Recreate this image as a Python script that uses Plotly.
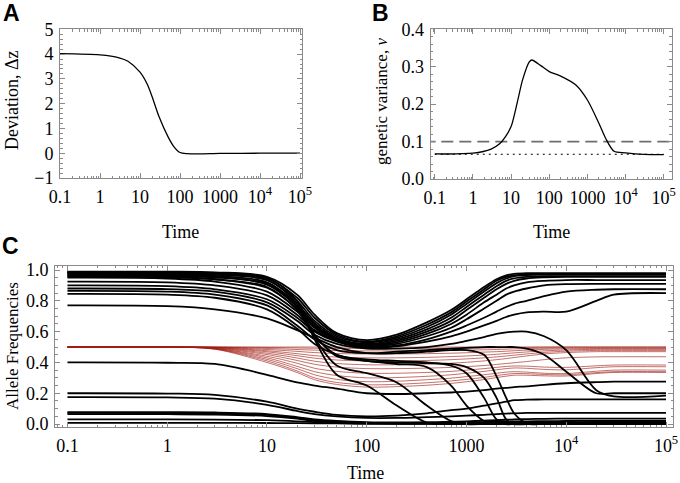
import plotly.graph_objects as go

# ---------------- data ----------------
time_ticks = [0.1, 1, 10, 100, 1000, 1e4, 1e5]
time_tick_text = ["0.1", "1", "10", "100", "1000", "10<sup>4</sup>", "10<sup>5</sup>"]

# Panel A: deviation
time_a = [0.1, 1, 3, 5, 10, 15, 20, 30, 50, 70, 100, 150, 300, 1000, 10000, 100000]
dev_a = [4.02, 3.97, 3.85, 3.71, 3.27, 2.8, 2.29, 1.47, 0.67, 0.27, 0.03, -0.02, -0.03, -0.01, 0.0, 0.0]

# Panel B: genetic variance
time_b = [0.1, 1, 3, 5, 7, 10, 15, 20, 30, 35, 60, 100, 200, 500, 1000, 2000, 3000, 5000, 10000, 30000, 100000]
var_b = [0.067, 0.069, 0.08, 0.094, 0.112, 0.14, 0.211, 0.265, 0.313, 0.318, 0.303, 0.287, 0.275, 0.251, 0.211, 0.149, 0.109, 0.074, 0.07, 0.066, 0.065]
var_dashed = 0.1
var_dotted = 0.066

# Panel C: allele frequencies
time_c = [0.1, 1, 3, 10, 20, 30, 50, 100, 200, 400, 700, 1000, 1500, 2000, 2500, 3000, 4000, 6000, 10000, 20000, 30000, 100000]

u1 = [0.99, 0.99, 0.985, 0.955, 0.84, 0.71, 0.59, 0.545, 0.58, 0.66, 0.74, 0.81, 0.89, 0.94, 0.965, 0.975, 0.98, 0.98, 0.98, 0.98, 0.98, 0.98]
u2 = [0.985, 0.984, 0.978, 0.945, 0.82, 0.69, 0.58, 0.535, 0.57, 0.645, 0.725, 0.795, 0.875, 0.93, 0.955, 0.965, 0.972, 0.975, 0.975, 0.975, 0.975, 0.975]
u3 = [0.98, 0.978, 0.97, 0.935, 0.80, 0.67, 0.57, 0.53, 0.56, 0.63, 0.71, 0.78, 0.86, 0.915, 0.945, 0.96, 0.967, 0.97, 0.97, 0.97, 0.97, 0.97]
u4 = [0.975, 0.972, 0.962, 0.92, 0.78, 0.655, 0.56, 0.52, 0.55, 0.615, 0.69, 0.76, 0.84, 0.895, 0.93, 0.945, 0.955, 0.96, 0.96, 0.96, 0.96, 0.96]
u5 = [0.97, 0.967, 0.955, 0.905, 0.765, 0.645, 0.555, 0.515, 0.54, 0.60, 0.67, 0.74, 0.82, 0.875, 0.91, 0.93, 0.945, 0.952, 0.955, 0.955, 0.955, 0.955]
u6 = [0.96, 0.956, 0.94, 0.885, 0.75, 0.635, 0.55, 0.51, 0.53, 0.585, 0.65, 0.71, 0.79, 0.84, 0.88, 0.90, 0.92, 0.93, 0.935, 0.935, 0.935, 0.935]
u7 = [0.95, 0.945, 0.925, 0.86, 0.73, 0.625, 0.545, 0.505, 0.52, 0.57, 0.625, 0.68, 0.75, 0.80, 0.84, 0.86, 0.88, 0.90, 0.908, 0.91, 0.91, 0.91]
u8 = [0.925, 0.92, 0.90, 0.835, 0.71, 0.61, 0.54, 0.50, 0.51, 0.55, 0.60, 0.64, 0.69, 0.73, 0.76, 0.78, 0.80, 0.83, 0.86, 0.872, 0.875, 0.875]
u9 = [0.90, 0.895, 0.875, 0.81, 0.69, 0.60, 0.535, 0.495, 0.505, 0.535, 0.57, 0.60, 0.64, 0.67, 0.695, 0.71, 0.725, 0.73, 0.73, 0.80, 0.84, 0.85]
b1 = [0.88, 0.876, 0.86, 0.79, 0.67, 0.58, 0.52, 0.49, 0.49, 0.50, 0.52, 0.54, 0.565, 0.585, 0.595, 0.60, 0.60, 0.57, 0.48, 0.22, 0.18, 0.185]
b2 = [0.865, 0.86, 0.84, 0.77, 0.64, 0.55, 0.48, 0.46, 0.47, 0.48, 0.49, 0.495, 0.50, 0.50, 0.50, 0.50, 0.49, 0.45, 0.34, 0.20, 0.20, 0.20]
da = [0.988, 0.987, 0.98, 0.95, 0.80, 0.55, 0.32, 0.25, 0.12, 0.01, 0.0, 0.0, 0.0, 0.0, 0.0, 0.0, 0.0, 0.0, 0.0, 0.0, 0.0, 0.0]
db = [0.982, 0.98, 0.972, 0.935, 0.78, 0.56, 0.38, 0.33, 0.27, 0.12, 0.02, 0.0, 0.0, 0.0, 0.0, 0.0, 0.0, 0.0, 0.0, 0.0, 0.0, 0.0]
dc = [0.965, 0.962, 0.952, 0.91, 0.76, 0.58, 0.44, 0.41, 0.39, 0.37, 0.25, 0.12, 0.02, 0.0, 0.0, 0.0, 0.0, 0.0, 0.0, 0.0, 0.0, 0.0]
dd = [0.955, 0.952, 0.94, 0.89, 0.74, 0.57, 0.45, 0.42, 0.41, 0.40, 0.38, 0.33, 0.17, 0.03, 0.0, 0.0, 0.0, 0.0, 0.0, 0.0, 0.0, 0.0]
de = [0.845, 0.84, 0.82, 0.745, 0.62, 0.52, 0.45, 0.41, 0.40, 0.395, 0.39, 0.37, 0.30, 0.17, 0.03, 0.0, 0.0, 0.0, 0.0, 0.0, 0.0, 0.0]
df = [0.77, 0.765, 0.745, 0.686, 0.61, 0.56, 0.50, 0.46, 0.46, 0.47, 0.48, 0.48, 0.45, 0.31, 0.17, 0.07, 0.005, 0.0, 0.0, 0.0, 0.0, 0.0]
l1 = [0.40, 0.398, 0.39, 0.32, 0.27, 0.25, 0.23, 0.20, 0.195, 0.20, 0.205, 0.21, 0.22, 0.23, 0.235, 0.24, 0.245, 0.255, 0.265, 0.272, 0.275, 0.275]
l2 = [0.20, 0.198, 0.19, 0.145, 0.10, 0.08, 0.06, 0.05, 0.055, 0.07, 0.09, 0.10, 0.12, 0.135, 0.145, 0.155, 0.158, 0.16, 0.16, 0.16, 0.16, 0.16]
l3 = [0.175, 0.173, 0.165, 0.125, 0.085, 0.065, 0.05, 0.04, 0.04, 0.045, 0.05, 0.055, 0.06, 0.065, 0.068, 0.07, 0.072, 0.073, 0.073, 0.073, 0.073, 0.073]
l4 = [0.078, 0.077, 0.075, 0.065, 0.045, 0.03, 0.02, 0.012, 0.01, 0.012, 0.015, 0.018, 0.022, 0.025, 0.028, 0.03, 0.032, 0.034, 0.035, 0.035, 0.035, 0.035]
l5 = [0.072, 0.071, 0.069, 0.06, 0.04, 0.025, 0.015, 0.008, 0.006, 0.007, 0.009, 0.011, 0.013, 0.015, 0.016, 0.017, 0.018, 0.019, 0.02, 0.02, 0.02, 0.02]
l6 = [0.065, 0.064, 0.062, 0.052, 0.035, 0.02, 0.01, 0.004, 0.003, 0.003, 0.004, 0.005, 0.006, 0.006, 0.007, 0.007, 0.008, 0.008, 0.008, 0.008, 0.008, 0.008]
l7 = [0.03, 0.03, 0.029, 0.025, 0.018, 0.012, 0.007, 0.003, 0.002, 0.002, 0.002, 0.002, 0.002, 0.002, 0.003, 0.003, 0.003, 0.003, 0.003, 0.003, 0.003, 0.003]
l8 = [0.008, 0.008, 0.008, 0.007, 0.006, 0.005, 0.004, 0.003, 0.003, 0.004, 0.005, 0.006, 0.007, 0.008, 0.009, 0.01, 0.011, 0.012, 0.012, 0.012, 0.012, 0.012]

r1 = [0.5, 0.5, 0.5, 0.5, 0.5, 0.5, 0.5, 0.5, 0.5, 0.5, 0.5, 0.5, 0.5, 0.5, 0.5, 0.5, 0.5, 0.5, 0.5, 0.5, 0.5, 0.5]
r2 = [0.5, 0.5, 0.5, 0.497, 0.494, 0.492, 0.491, 0.49, 0.49, 0.491, 0.492, 0.493, 0.494, 0.495, 0.496, 0.497, 0.498, 0.499, 0.5, 0.5, 0.5, 0.5]
r3 = [0.5, 0.5, 0.499, 0.491, 0.484, 0.48, 0.477, 0.475, 0.475, 0.476, 0.478, 0.48, 0.482, 0.484, 0.486, 0.488, 0.49, 0.492, 0.494, 0.495, 0.495, 0.495]
r4 = [0.5, 0.5, 0.498, 0.484, 0.472, 0.464, 0.458, 0.455, 0.455, 0.457, 0.46, 0.463, 0.467, 0.47, 0.473, 0.476, 0.48, 0.485, 0.488, 0.49, 0.49, 0.49]
r5 = [0.5, 0.5, 0.497, 0.476, 0.457, 0.444, 0.435, 0.43, 0.43, 0.433, 0.438, 0.442, 0.448, 0.453, 0.458, 0.462, 0.468, 0.475, 0.481, 0.485, 0.485, 0.485]
r6 = [0.5, 0.5, 0.496, 0.469, 0.444, 0.428, 0.416, 0.41, 0.41, 0.413, 0.418, 0.423, 0.43, 0.436, 0.442, 0.447, 0.455, 0.465, 0.473, 0.478, 0.478, 0.478]
r7 = [0.5, 0.5, 0.494, 0.46, 0.429, 0.408, 0.393, 0.385, 0.385, 0.389, 0.395, 0.401, 0.41, 0.418, 0.425, 0.432, 0.442, 0.455, 0.464, 0.47, 0.47, 0.47]
r8 = [0.5, 0.5, 0.493, 0.451, 0.413, 0.388, 0.37, 0.36, 0.36, 0.363, 0.368, 0.373, 0.38, 0.387, 0.393, 0.398, 0.406, 0.418, 0.43, 0.436, 0.437, 0.437]
r9 = [0.5, 0.5, 0.491, 0.44, 0.395, 0.362, 0.342, 0.33, 0.33, 0.335, 0.342, 0.35, 0.36, 0.368, 0.374, 0.377, 0.376, 0.37, 0.368, 0.378, 0.383, 0.383]
r10 = [0.5, 0.5, 0.49, 0.43, 0.375, 0.34, 0.315, 0.30, 0.302, 0.31, 0.32, 0.33, 0.342, 0.352, 0.36, 0.364, 0.362, 0.355, 0.352, 0.366, 0.372, 0.372]
r11 = [0.5, 0.5, 0.488, 0.42, 0.36, 0.32, 0.29, 0.275, 0.278, 0.288, 0.298, 0.308, 0.32, 0.33, 0.337, 0.34, 0.337, 0.33, 0.328, 0.343, 0.35, 0.35]
r12 = [0.5, 0.5, 0.487, 0.41, 0.345, 0.30, 0.27, 0.255, 0.258, 0.268, 0.28, 0.29, 0.303, 0.315, 0.323, 0.328, 0.327, 0.322, 0.32, 0.334, 0.34, 0.34]
r13 = [0.5, 0.5, 0.486, 0.40, 0.335, 0.288, 0.257, 0.24, 0.243, 0.252, 0.264, 0.275, 0.289, 0.302, 0.311, 0.317, 0.317, 0.313, 0.312, 0.328, 0.335, 0.335]

red_curves = [r1, r2, r3, r4, r5, r6, r7, r8, r9, r10, r11, r12, r13]
black_curves = [u1, u2, u3, u4, u5, u6, u7, u8, u9, b1, b2, da, db, dc, dd, de, df,
                l1, l2, l3, l4, l5, l6, l7, l8]

# ---------------- figure ----------------
W, H = 680, 483
SERIF = "Liberation Serif"
FRAME = "#8a8a8a"


def px_x(p):
    return p / W


def px_y(p):
    return 1 - p / H


fig = go.Figure()

# Panel A
fig.add_trace(go.Scatter(x=time_a, y=dev_a, mode="lines", line=dict(color="black", width=1.3, shape="spline", smoothing=0.8),
                         xaxis="x", yaxis="y", showlegend=False, hoverinfo="skip"))

# Panel B
fig.add_trace(go.Scatter(x=[time_c[0] / 2, time_c[-1] * 2], y=[var_dashed, var_dashed], mode="lines",
                         line=dict(color="#6e6e6e", width=1.6, dash="12px,6px"),
                         xaxis="x2", yaxis="y2", showlegend=False, hoverinfo="skip"))
fig.add_trace(go.Scatter(x=[time_b[0], time_b[-1]], y=[var_dotted, var_dotted], mode="lines",
                         line=dict(color="black", width=1.1, dash="2px,4px"),
                         xaxis="x2", yaxis="y2", showlegend=False, hoverinfo="skip"))
fig.add_trace(go.Scatter(x=time_b, y=var_b, mode="lines", line=dict(color="black", width=1.3, shape="spline", smoothing=0.8),
                         xaxis="x2", yaxis="y2", showlegend=False, hoverinfo="skip"))

# Panel C
for ys in red_curves:
    fig.add_trace(go.Scatter(x=time_c, y=ys, mode="lines",
                             line=dict(color="rgba(160,30,20,0.8)", width=0.8, shape="spline", smoothing=0.9),
                             xaxis="x3", yaxis="y3", showlegend=False, hoverinfo="skip"))
for ys in black_curves:
    fig.add_trace(go.Scatter(x=time_c, y=ys, mode="lines",
                             line=dict(color="black", width=1.8, shape="spline", smoothing=0.9),
                             xaxis="x3", yaxis="y3", showlegend=False, hoverinfo="skip"))

tickfont = dict(family=SERIF, size=18, color="black")


def xaxis_cfg(dom, rng, anchor):
    return dict(type="log", domain=dom, range=rng, anchor=anchor, automargin=False,
                tickvals=time_ticks, ticktext=time_tick_text, tickfont=tickfont,
                ticks="inside", ticklen=5, tickcolor=FRAME, tickwidth=1,
                minor=dict(ticks="inside", ticklen=2.5, tickcolor=FRAME, dtick="D1", showgrid=False),
                showline=True, linecolor=FRAME, linewidth=1, mirror="allticks",
                showgrid=False, zeroline=False, ticklabelstandoff=2, ticklabeloverflow="allow")


def yaxis_cfg(dom, rng, anchor, dtick, minor_dtick, fmt):
    return dict(domain=dom, range=rng, anchor=anchor, dtick=dtick, tick0=0, tickformat=fmt, automargin=False,
                tickfont=tickfont, ticks="inside", ticklen=5, tickcolor=FRAME, tickwidth=1,
                minor=dict(ticks="inside", ticklen=2.5, tickcolor=FRAME, dtick=minor_dtick, tick0=0, showgrid=False),
                showline=True, linecolor=FRAME, linewidth=1, mirror="allticks",
                showgrid=False, zeroline=False, ticklabelstandoff=2, ticklabeloverflow="allow")


fig.update_layout(
    width=W, height=H, margin=dict(l=0, r=0, t=0, b=0, autoexpand=False),
    paper_bgcolor="white", plot_bgcolor="white",
    xaxis=xaxis_cfg([px_x(60), px_x(302)], [-1, 5.05], "y"),
    yaxis=yaxis_cfg([px_y(178), px_y(29.3)], [-1, 5], "x", 1, 0.2, "d"),
    xaxis2=xaxis_cfg([px_x(430.7), px_x(671.7)], [-1.107, 5.21], "y2"),
    yaxis2=yaxis_cfg([px_y(179), px_y(29.3)], [0, 0.4], "x2", 0.1, 0.02, ".1f"),
    xaxis3=xaxis_cfg([px_x(55), px_x(673)], [-1.125, 5.07], "y3"),
    yaxis3=yaxis_cfg([px_y(427.3), px_y(265.7)], [-0.021, 1.028], "x3", 0.2, 0.05, ".1f"),
)

ann = []


def add_text(text, x, y, size=18, angle=0, family=SERIF, bold=False):
    if bold:
        text = "<b>" + text + "</b>"
    ann.append(dict(text=text, x=px_x(x), y=px_y(y), xref="paper", yref="paper",
                    xanchor="center", yanchor="middle", showarrow=False, textangle=angle,
                    font=dict(family=family, size=size, color="black")))


add_text("A", 11, 13, size=23, family="Liberation Sans", bold=True)
add_text("B", 380, 13, size=23, family="Liberation Sans", bold=True)
add_text("C", 10, 246, size=23, family="Liberation Sans", bold=True)
add_text("Deviation, Δz", 12, 100, size=18, angle=-90)
add_text("genetic variance, <i>ν</i>", 382, 102, size=17, angle=-90)
add_text("Allele Frequencies", 12, 346, size=17, angle=-90)
add_text("Time", 180, 232)
add_text("Time", 551, 232)
add_text("Time", 365, 473)
fig.update_layout(annotations=ann)

fig.write_html("out.html", config={"displayModeBar": False},
               post_script="document.body.style.margin='0px';document.body.style.overflow='hidden';")
